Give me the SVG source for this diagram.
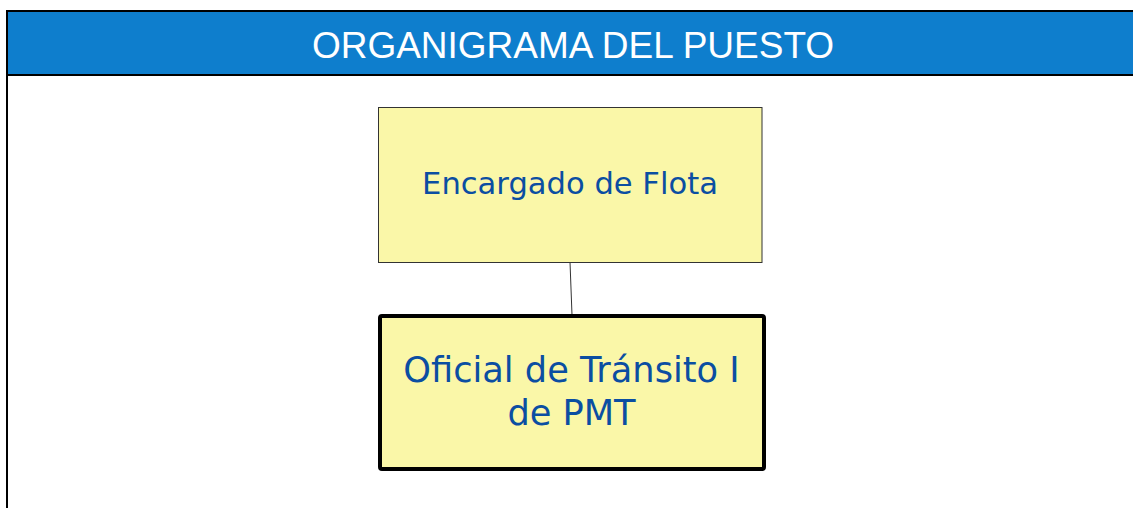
<svg xmlns="http://www.w3.org/2000/svg" width="1133" height="508" viewBox="0 0 1133 508">
<style>
.box{fill:#FAF7A8}
.lbl{font-family:"DejaVu Sans",Verdana,sans-serif;fill:#0B4EA2;text-anchor:middle}
.title{font-family:"Liberation Sans",Arial,sans-serif;fill:#FFFFFF;text-anchor:middle;font-size:37px}
</style>
<rect x="0" y="0" width="1133" height="508" fill="#FFFFFF"/>
<g id="frame">
<rect x="7" y="11" width="1140" height="520" fill="#FFFFFF" stroke="#000000" stroke-width="2"/>
<rect x="7" y="11" width="1140" height="64" fill="#0E7ECD" stroke="#000000" stroke-width="2"/>
<text class="title" x="573" y="58">ORGANIGRAMA DEL PUESTO</text>
</g>
<g id="connectors">
<line x1="570" y1="262" x2="572" y2="315" stroke="#333333" stroke-width="1"/>
</g>
<g id="node-encargado">
<rect class="box" x="378.5" y="107.5" width="383.5" height="155" stroke="#333333" stroke-width="1"/>
<text class="lbl" x="570" y="194" font-size="30.6">Encargado de Flota</text>
</g>
<g id="node-oficial">
<rect class="box" x="380" y="316" width="384" height="153" rx="2" stroke="#000000" stroke-width="4"/>
<text class="lbl" x="571.5" y="382" font-size="35.2">Oficial de Tránsito I</text>
<text class="lbl" x="571.5" y="425" font-size="35.2">de PMT</text>
</g>
</svg>
